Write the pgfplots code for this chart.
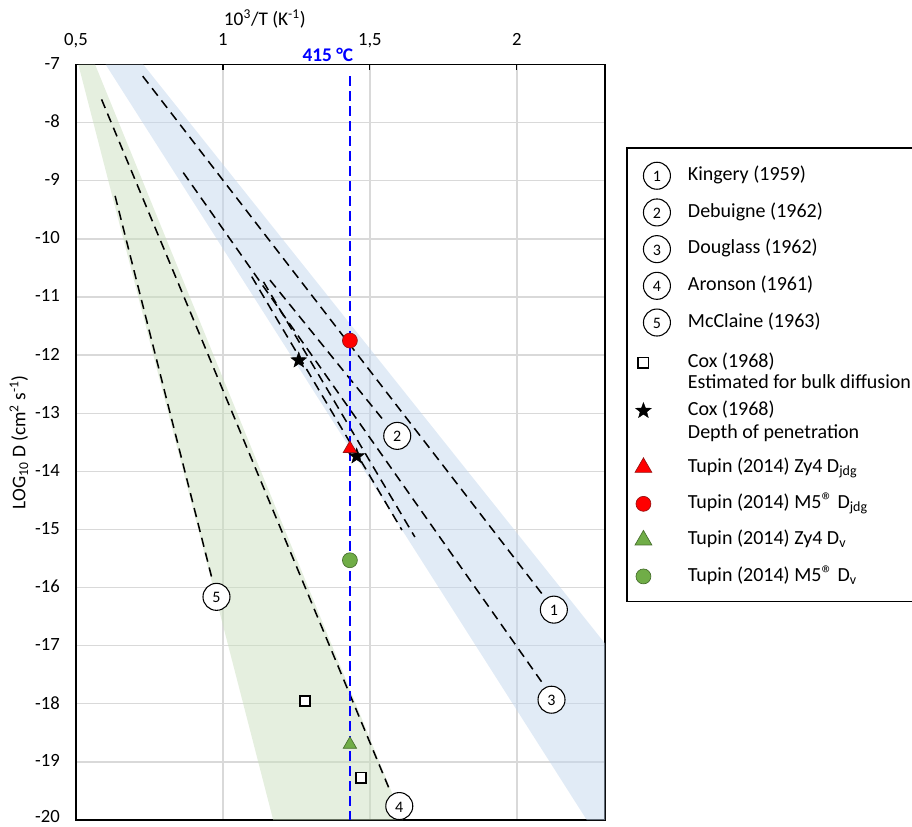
\documentclass[border=0pt]{standalone}
\usepackage{fontspec}
\setmainfont{Carlito}
\usepackage{pgfplots}
\pgfplotsset{compat=1.18}
\definecolor{bandblue}{RGB}{195,215,237}
\definecolor{bandgreen}{RGB}{203,223,191}
\definecolor{gridgray}{RGB}{217,217,217}
\definecolor{mkred}{RGB}{255,0,0}
\definecolor{mkreddark}{RGB}{150,20,20}
\definecolor{mkgreen}{RGB}{112,173,71}
\definecolor{mkgreendark}{RGB}{70,110,45}
\newcommand\myfont{\fontsize{14.5}{17.4}\selectfont}
\newcommand\tickfont{\fontsize{14}{16.8}\selectfont}
\newcommand\legfont{\fontsize{15}{18}\selectfont}
\newcommand\reg{{\fontsize{17}{17}\selectfont ®}}
\pgfdeclareplotmark{fstar}{%
  \pgfpathmoveto{\pgfqpointpolar{90}{\pgfplotmarksize}}%
  \pgfpathlineto{\pgfqpointpolar{126}{0.42\pgfplotmarksize}}%
  \pgfpathlineto{\pgfqpointpolar{162}{\pgfplotmarksize}}%
  \pgfpathlineto{\pgfqpointpolar{198}{0.42\pgfplotmarksize}}%
  \pgfpathlineto{\pgfqpointpolar{234}{\pgfplotmarksize}}%
  \pgfpathlineto{\pgfqpointpolar{270}{0.42\pgfplotmarksize}}%
  \pgfpathlineto{\pgfqpointpolar{306}{\pgfplotmarksize}}%
  \pgfpathlineto{\pgfqpointpolar{342}{0.42\pgfplotmarksize}}%
  \pgfpathlineto{\pgfqpointpolar{18}{\pgfplotmarksize}}%
  \pgfpathlineto{\pgfqpointpolar{54}{0.42\pgfplotmarksize}}%
  \pgfpathclose
  \pgfusepathqfillstroke}
\tikzset{numcirc/.style={circle, draw=black, line width=0.8pt, fill=white,
  minimum size=20.25pt, inner sep=0pt, outer sep=0pt, font=\fontsize{12}{14}\selectfont,
  text height=0.63em, text depth=0pt}}
\pgfplotsset{dline/.style={black, line width=1.15pt, dash pattern=on 7pt off 4.5pt, forget plot}}
\begin{document}
\myfont
\begin{tikzpicture}
\useasboundingbox (0,0) rectangle (684pt,619.5pt);
\begin{axis}[
  at={(57pt,4.5pt)}, anchor=south west,
  scale only axis, width=396.75pt, height=566.6pt,
  xmin=0.5, xmax=2.3, ymin=-20, ymax=-7,
  clip mode=individual,
  xtick={0.5,1,1.5,2}, xticklabels={{0,5},1,{1,5},2},
  ytick={-20,-19,...,-7},
  yticklabels={\raisebox{3.5pt}{-20},-19,-18,-17,-16,-15,-14,-13,-12,-11,-10,-9,-8,-7},
  xtick pos=right, xticklabel pos=right,
  tick align=inside, major tick length=3.75pt,
  xtick style={black, line width=0.9pt},
  ytick style={draw=none},
  grid=major, major grid style={draw=gridgray, line width=1pt},
  axis line style={black, line width=1.1pt},
  tick label style={font=\tickfont},
  xticklabel style={anchor=base, inner sep=0pt, yshift=13.9pt},
  yticklabel style={anchor=east, inner sep=0pt, xshift=-12pt, yshift=0.8pt},
  xlabel={10\textsuperscript{3}/T (K\textsuperscript{-1})},
  ylabel={LOG\textsubscript{10} D (cm\textsuperscript{2} s\textsuperscript{-1})},
  every axis x label/.style={at={(axis description cs:0.357,1.0523)}, anchor=base, font=\myfont},
  every axis y label/.style={at={(axis description cs:-0.1078,0.5)}, rotate=90, anchor=center, font=\myfont},
  legend cell align=left,
  legend style={at={(axis description cs:1.0416,0.8895)}, anchor=north west,
    draw=black, line width=1.1pt, fill=white, row sep=0pt, column sep=12.75pt,
    inner xsep=6pt, inner ysep=10.125pt, outer sep=0pt, font=\legfont,
    nodes={inner sep=0pt, outer sep=0pt, text height=0.75em, text depth=0.25em}},
]
% shaded bands
\addplot[draw=none, fill=bandblue, fill opacity=0.5, forget plot]
  coordinates {(0.601,-7) (0.729,-7) (2.779,-20) (2.238,-20) (0.601,-7)};
\addplot[draw=none, fill=bandgreen, fill opacity=0.5, forget plot]
  coordinates {(0.508,-7) (0.565,-7) (1.613,-20) (1.171,-20) (0.508,-7)};
% dashed literature lines
\addplot[dline] coordinates {(0.727,-7.20) (2.089,-16.13)};
\addplot[dline] coordinates {(0.865,-8.86) (2.084,-17.62)};
\addplot[dline] coordinates {(0.587,-7.60) (1.568,-19.49)};
\addplot[dline] coordinates {(0.633,-9.26) (0.964,-15.87)};
\addplot[dline] coordinates {(1.098,-10.65) (1.609,-15.01)};
\addplot[dline] coordinates {(1.138,-10.74) (1.653,-15.13)};
\addplot[dline] coordinates {(1.160,-10.71) (1.554,-13.17)};
% 415 C line
\addplot[blue, line width=2pt, dash pattern=on 7.5pt off 3.75pt, forget plot]
  coordinates {(1.432,-7.2) (1.432,-20)};
% data markers
\addplot[only marks, mark=square*, mark size=3.8pt, mark options={fill=white, draw=black, line width=1.4pt}, forget plot]
  coordinates {(1.279,-17.95) (1.469,-19.27)};
\addplot[only marks, mark=fstar, mark size=6.2pt, mark options={fill=black, draw=black, line width=0.3pt}, forget plot]
  coordinates {(1.258,-12.09) (1.455,-13.74)};
\addplot[only marks, mark=triangle*, mark size=5.8pt, mark options={fill=mkred, draw=mkreddark, line width=0.5pt}, forget plot]
  coordinates {(1.432,-13.61)};
\addplot[only marks, mark=*, mark size=5.6pt, mark options={fill=mkred, draw=mkreddark, line width=0.5pt}, forget plot]
  coordinates {(1.432,-11.75)};
\addplot[only marks, mark=triangle*, mark size=5.8pt, mark options={fill=mkgreen, draw=mkgreendark, line width=0.5pt}, forget plot]
  coordinates {(1.432,-18.70)};
\addplot[only marks, mark=*, mark size=5.6pt, mark options={fill=mkgreen, draw=mkgreendark, line width=0.5pt}, forget plot]
  coordinates {(1.432,-15.53)};
% labels
\node[numcirc] at (axis cs:2.126,-16.38) {1};
\node[numcirc] at (axis cs:1.593,-13.39) {2};
\node[numcirc] at (axis cs:2.118,-17.93) {3};
\node[numcirc] at (axis cs:1.600,-19.76) {4};
\node[numcirc] at (axis cs:0.978,-16.16) {5};
\node[anchor=base, text=blue, font=\myfont\bfseries, inner sep=0pt, yshift=1.9pt] at (axis cs:1.357,-7) {415 °C};
% legend
\addlegendimage{legend image code/.code={\node[numcirc] at (0pt,0pt) {1}; \path (0pt,-13.21pt) (0pt,10.125pt);}}
\addlegendentry{Kingery (1959)}
\addlegendimage{legend image code/.code={\node[numcirc] at (0pt,0pt) {2}; \path (0pt,-13.21pt) (0pt,13.21pt);}}
\addlegendentry{Debuigne (1962)}
\addlegendimage{legend image code/.code={\node[numcirc] at (0pt,0pt) {3}; \path (0pt,-13.21pt) (0pt,13.21pt);}}
\addlegendentry{Douglass (1962)}
\addlegendimage{legend image code/.code={\node[numcirc] at (0pt,0pt) {4}; \path (0pt,-13.21pt) (0pt,13.21pt);}}
\addlegendentry{Aronson (1961)}
\addlegendimage{legend image code/.code={\node[numcirc] at (0pt,0pt) {5}; \path (0pt,-14.45pt) (0pt,13.21pt);}}
\addlegendentry{McClaine (1963)}
\addlegendimage{legend image code/.code={\draw[mark=square*, mark size=3.8pt, mark options={fill=white, draw=black, line width=1.4pt}] plot coordinates {(0pt,0pt)}; \path (0pt,-7.55pt) (0pt,14.45pt);}}
\addlegendentry{Cox (1968)}
\addlegendimage{legend image code/.code={\path (0pt,-9.46pt) (0pt,7.55pt);}}
\addlegendentry{Estimated for bulk diffusion}
\addlegendimage{legend image code/.code={\draw[mark=fstar, mark size=6.2pt, mark options={fill=black, draw=black, line width=0.3pt}] plot coordinates {(0pt,0pt)}; \path (0pt,-8.19pt) (0pt,9.46pt);}}
\addlegendentry{Cox (1968)}
\addlegendimage{legend image code/.code={\path (0pt,-11.98pt) (0pt,8.19pt);}}
\addlegendentry{Depth of penetration}
\addlegendimage{legend image code/.code={\draw[mark=triangle*, mark size=7.3pt, mark options={fill=mkred, draw=mkreddark, line width=0.5pt}] plot coordinates {(0pt,0pt)}; \path (0pt,-13.06pt) (0pt,11.98pt);}}
\addlegendentry{Tupin (2014) Zy4 D\textsubscript{jdg}}
\addlegendimage{legend image code/.code={\draw[mark=*, mark size=5.6pt, mark options={fill=mkred, draw=mkreddark, line width=0.5pt}] plot coordinates {(0pt,0pt)}; \path (0pt,-13.06pt) (0pt,13.06pt);}}
\addlegendentry{Tupin (2014) M5\reg{} D\textsubscript{jdg}}
\addlegendimage{legend image code/.code={\draw[mark=triangle*, mark size=7.3pt, mark options={fill=mkgreen, draw=mkgreendark, line width=0.5pt}] plot coordinates {(0pt,0pt)}; \path (0pt,-13.06pt) (0pt,13.06pt);}}
\addlegendentry{Tupin (2014) Zy4 D\textsubscript{v}}
\addlegendimage{legend image code/.code={\draw[mark=*, mark size=5.6pt, mark options={fill=mkgreen, draw=mkgreendark, line width=0.5pt}] plot coordinates {(0pt,0pt)}; \path (0pt,-8.08pt) (0pt,13.06pt);}}
\addlegendentry{Tupin (2014) M5\reg{} D\textsubscript{v}}
\end{axis}
\end{tikzpicture}
\end{document}
